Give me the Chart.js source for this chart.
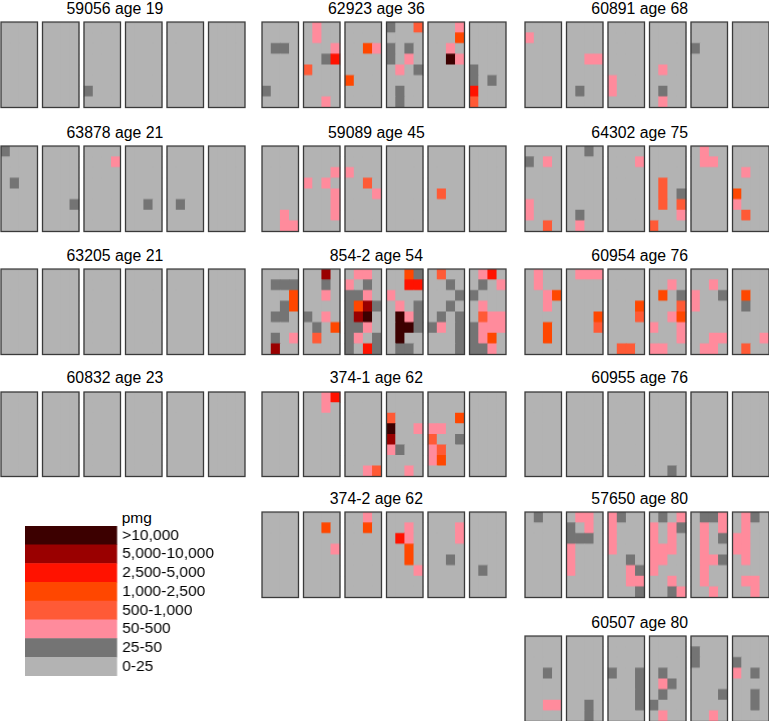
<!DOCTYPE html>
<html>
<head>
<meta charset="utf-8">
<script src="https://cdn.jsdelivr.net/npm/chart.js@4.4.1/dist/chart.umd.min.js"></script>
<style>
  body { margin: 0; background: #fff; font-family: "Liberation Sans", Arial, sans-serif; }
  #page { position: relative; width: 769px; height: 721px; overflow: hidden; }
  .panel { position: absolute; width: 248px; height: 88.5px; }
  .title { position: absolute; font-size: 15.8px; line-height: 16px; white-space: nowrap; transform: translateX(-50%); color: #000; }
  #legendBox { position: absolute; left: 25px; top: 526px; width: 211.7px; height: 150px; }
  #pmg { position: absolute; left: 121.7px; top: 509.5px; font-size: 15.5px; line-height: 16px; color: #000; }
</style>
</head>
<body>
<div id="page"></div>
<script>
// pmg level of every cell: 0 = 0-25, 1 = 25-50, 2 = 50-500, 3 = 500-1,000,
// 4 = 1,000-2,500, 5 = 2,500-5,000, 6 = 5,000-10,000, 7 = >10,000
// one string per grid row, six sections of 4 cells each
const p59056 = [
  "0000 0000 0000 0000 0000 0000",
  "0000 0000 0000 0000 0000 0000",
  "0000 0000 0000 0000 0000 0000",
  "0000 0000 0000 0000 0000 0000",
  "0000 0000 0000 0000 0000 0000",
  "0000 0000 0000 0000 0000 0000",
  "0000 0000 1000 0000 0000 0000",
  "0000 0000 0000 0000 0000 0000"
];
const p63878 = [
  "1000 0000 0000 0000 0000 0000",
  "0000 0000 0002 0000 0000 0000",
  "0000 0000 0000 0000 0000 0000",
  "0100 0000 0000 0000 0000 0000",
  "0000 0000 0000 0000 0000 0000",
  "0000 0001 0000 0010 0100 0000",
  "0000 0000 0000 0000 0000 0000",
  "0000 0000 0000 0000 0000 0000"
];
const p63205 = [
  "0000 0000 0000 0000 0000 0000",
  "0000 0000 0000 0000 0000 0000",
  "0000 0000 0000 0000 0000 0000",
  "0000 0000 0000 0000 0000 0000",
  "0000 0000 0000 0000 0000 0000",
  "0000 0000 0000 0000 0000 0000",
  "0000 0000 0000 0000 0000 0000",
  "0000 0000 0000 0000 0000 0000"
];
const p60832 = [
  "0000 0000 0000 0000 0000 0000",
  "0000 0000 0000 0000 0000 0000",
  "0000 0000 0000 0000 0000 0000",
  "0000 0000 0000 0000 0000 0000",
  "0000 0000 0000 0000 0000 0000",
  "0000 0000 0000 0000 0000 0000",
  "0000 0000 0000 0000 0000 0000",
  "0000 0000 0000 0000 0000 0000"
];
const p62923 = [
  "0000 0200 0000 1003 0002 0000",
  "0000 0200 0000 0000 0004 0000",
  "0110 0002 0042 1010 0020 0000",
  "0000 0015 0000 1020 0072 0000",
  "0000 3000 0000 0201 0000 1000",
  "0000 0000 4000 0000 0000 1010",
  "1000 0000 0000 0100 0000 5000",
  "0000 0020 0000 0100 0000 3000"
];
const p59089 = [
  "0000 0000 0000 0000 0000 0000",
  "0000 0000 0000 0000 0000 0000",
  "0000 0002 2000 0000 0000 0000",
  "0000 2020 0030 0000 0000 0000",
  "0000 0002 0002 0000 0300 0000",
  "0000 0002 0000 0000 0000 0000",
  "0020 0002 0000 0000 0000 0000",
  "0022 0000 0000 0000 0000 0000"
];
const p854_2 = [
  "0000 0060 0220 0041 0300 0250",
  "0111 0010 2010 0055 0010 0102",
  "0004 0020 1120 2000 0001 1000",
  "0014 0000 1461 0201 0010 0200",
  "0110 1020 1670 0721 0101 0322",
  "0000 0104 1120 0771 1201 1222",
  "0102 0300 1201 0700 0001 1240",
  "0600 0000 1051 0110 0001 1120"
];
const p374_1 = [
  "0000 0025 0000 0000 0000 0000",
  "0000 0020 0000 0000 0000 0000",
  "0000 0000 0000 3000 0004 0000",
  "0000 0000 0000 7002 2200 0000",
  "0000 0000 0000 6000 3001 0000",
  "0000 0000 0000 2100 2300 0000",
  "0000 0000 0000 0000 2400 0000",
  "0000 0000 0023 0020 0000 0000"
];
const p374_2 = [
  "0000 0000 0020 0000 0000 0000",
  "0000 0040 0040 0020 0002 0000",
  "0000 0000 0000 0520 0002 0000",
  "0000 0002 0000 0040 0000 0000",
  "0000 0000 0000 0040 0010 0000",
  "0000 0000 0000 0002 0000 0100",
  "0000 0000 0000 0000 0000 0000",
  "0000 0000 0000 0000 0000 0000"
];
const p60891 = [
  "0000 0000 0000 0000 0000 0000",
  "2000 0000 0000 0000 0000 0000",
  "0000 0000 0000 0000 1000 0000",
  "0000 0022 0000 0000 0000 0000",
  "0000 0000 0000 0200 0000 0000",
  "0000 0000 2000 0000 0000 0000",
  "0000 0100 2000 0100 0000 0000",
  "0000 0000 0000 0200 0000 0000"
];
const p64302 = [
  "0000 0010 0000 0000 0200 0000",
  "1020 0000 0002 0000 0220 0000",
  "0000 0000 0000 0000 0000 0200",
  "0000 0000 0000 0300 0000 0000",
  "0000 0000 0000 0301 0000 4000",
  "2000 0000 0000 0303 0000 2000",
  "2000 0100 0000 0002 0000 0300",
  "0030 0200 0000 3000 0000 0000"
];
const p60954 = [
  "0200 0222 0000 0000 0000 0000",
  "0200 0000 0000 0020 0020 0000",
  "0024 0000 0000 0401 2001 0400",
  "0020 0000 0004 0003 2000 0100",
  "0000 0004 0003 0024 0000 0000",
  "0040 0003 0000 2002 0000 0000",
  "0040 0000 0000 0002 0022 0002",
  "0000 0000 0330 2200 0220 0300"
];
const p60955 = [
  "0000 0000 0000 0000 0000 0000",
  "0000 0000 0000 0000 0000 0000",
  "0000 0000 0000 0000 0000 0000",
  "0000 0000 0000 0000 0000 0000",
  "0000 0000 0000 0000 0000 0000",
  "0000 0000 0000 0000 0000 0000",
  "0000 0000 0000 0000 0000 0000",
  "0000 0000 0000 0010 0000 0000"
];
const p57650 = [
  "0100 0220 2100 0102 0112 0210",
  "0000 1020 2000 2021 0202 0200",
  "0000 1110 2000 2020 0201 2200",
  "0000 2000 2000 2220 0200 2200",
  "0000 2000 0010 2200 0221 0200",
  "0000 2000 0021 2000 0200 0000",
  "0000 0000 0022 0020 0200 0220",
  "0000 0000 0001 0012 0020 0020"
];
const p60507 = [
  "0000 0000 0000 0000 0000 0000",
  "0000 0000 0000 0000 1000 0000",
  "0000 0000 0000 0000 1000 1000",
  "0010 0000 1001 0100 0000 2010",
  "0000 0000 0001 0210 0000 0000",
  "0000 0000 0001 0100 0001 0010",
  "0022 0010 0001 1000 0000 0010",
  "0000 0010 0000 0200 0020 0000"
];

const panelTitles = [
  "59056 age 19", "63878 age 21", "63205 age 21", "60832 age 23",
  "62923 age 36", "59089 age 45", "854-2 age 54", "374-1 age 62", "374-2 age 62",
  "60891 age 68", "64302 age 75", "60954 age 76", "60955 age 76", "57650 age 80", "60507 age 80"
];
const panelCells = [
  p59056, p63878, p63205, p60832,
  p62923, p59089, p854_2, p374_1, p374_2,
  p60891, p64302, p60954, p60955, p57650, p60507
];

const levelLabels = ["0-25", "25-50", "50-500", "500-1,000", "1,000-2,500", "2,500-5,000", "5,000-10,000", ">10,000"];
const levelColors = ["#b3b3b3", "#747474", "#ff8b9c", "#ff5a36", "#ff4700", "#ff1200", "#9a0000", "#3c0000"];

// layout: which column / row slot each panel sits in
const panelSlots = [
  [0, 0], [0, 1], [0, 2], [0, 3],
  [1, 0], [1, 1], [1, 2], [1, 3], [1, 4],
  [2, 0], [2, 1], [2, 2], [2, 3], [2, 4], [2, 5]
];
const colLeft = [0.5, 262, 525.3];
const rowTop = [22, 146, 269, 391.5, 512, 636];
const PITCH = 4.55;   // section spacing, in cell widths
const FONT = '"Liberation Sans", Arial, sans-serif';

// light grey backing + dark frame around each of the six sections
const sectionFrames = {
  id: 'sectionFrames',
  beforeDatasetsDraw(chart) {
    const { ctx, scales: { x, y } } = chart;
    ctx.save();
    ctx.fillStyle = levelColors[0];
    for (let s = 0; s < 6; s++) {
      const x0 = x.getPixelForValue(s * PITCH - 0.5);
      const x1 = x.getPixelForValue(s * PITCH + 3.5);
      ctx.fillRect(x0, y.getPixelForValue(0), x1 - x0, y.getPixelForValue(8) - y.getPixelForValue(0));
    }
    ctx.restore();
  },
  afterDatasetsDraw(chart) {
    const { ctx, scales: { x, y } } = chart;
    ctx.save();
    ctx.strokeStyle = '#3a3a3a';
    ctx.lineWidth = 1.3;
    for (let s = 0; s < 6; s++) {
      const x0 = x.getPixelForValue(s * PITCH - 0.5);
      const x1 = x.getPixelForValue(s * PITCH + 3.5);
      const y0 = y.getPixelForValue(0);
      const y1 = y.getPixelForValue(8);
      ctx.strokeRect(x0, Math.min(y0, y1), x1 - x0, Math.abs(y1 - y0));
    }
    ctx.restore();
  }
};

function cellPoints(rows) {
  const pts = [], colors = [];
  rows.forEach((line, r) => {
    line.split(' ').forEach((sec, s) => {
      [...sec].forEach((ch, c) => {
        pts.push({ x: s * PITCH + c, y: [r, r + 1] });
        colors.push(levelColors[+ch]);
      });
    });
  });
  return { pts, colors };
}

const page = document.getElementById('page');

panelTitles.forEach((title, i) => {
  const [col, row] = panelSlots[i];
  const left = colLeft[col];
  const top = rowTop[row];

  const t = document.createElement('div');
  t.className = 'title';
  t.textContent = title;
  t.style.left = (left + 122 - 7.6) + 'px';
  t.style.top = (top - 21.1) + 'px';
  page.appendChild(t);

  const box = document.createElement('div');
  box.className = 'panel';
  box.style.left = (left - 2) + 'px';
  box.style.top = (top - 2) + 'px';
  const canvas = document.createElement('canvas');
  box.appendChild(canvas);
  page.appendChild(box);

  const { pts, colors } = cellPoints(panelCells[i]);
  new Chart(canvas, {
    type: 'bar',
    data: {
      datasets: [{
        data: pts,
        backgroundColor: colors,
        borderWidth: 0,
        barPercentage: 1,
        categoryPercentage: 1
      }]
    },
    options: {
      responsive: true,
      maintainAspectRatio: false,
      animation: false,
      layout: { padding: 2 },
      plugins: { legend: { display: false }, tooltip: { enabled: false } },
      scales: {
        x: { type: 'linear', min: -0.5, max: 5 * PITCH + 3.5, offset: false, display: false },
        y: { type: 'linear', min: 0, max: 8, reverse: true, display: false }
      }
    },
    plugins: [sectionFrames]
  });
});

// colour key
const pmg = document.createElement('div');
pmg.id = 'pmg';
pmg.textContent = 'pmg';
page.appendChild(pmg);

const legendBox = document.createElement('div');
legendBox.id = 'legendBox';
const legendCanvas = document.createElement('canvas');
legendBox.appendChild(legendCanvas);
page.appendChild(legendBox);

const keyLabels = levelLabels.slice().reverse();
const keyColors = levelColors.slice().reverse();

new Chart(legendCanvas, {
  type: 'bar',
  data: {
    labels: keyLabels,
    datasets: [{
      data: keyLabels.map(() => 1),
      backgroundColor: keyColors,
      borderWidth: 0,
      barPercentage: 1,
      categoryPercentage: 1
    }]
  },
  options: {
    indexAxis: 'y',
    responsive: true,
    maintainAspectRatio: false,
    animation: false,
    layout: { padding: 0 },
    plugins: { legend: { display: false }, tooltip: { enabled: false } },
    scales: {
      x: { display: false, min: 0, max: 1 },
      y: {
        position: 'right',
        grid: { display: false, drawTicks: false },
        border: { display: false },
        ticks: { autoSkip: false, padding: 5, color: '#000', font: { family: FONT, size: 15.5 } },
        afterFit(scale) {
          scale.width = 120;
          scale.paddingTop = 0;
          scale.paddingBottom = 0;
        }
      }
    }
  }
});
</script>
</body>
</html>
